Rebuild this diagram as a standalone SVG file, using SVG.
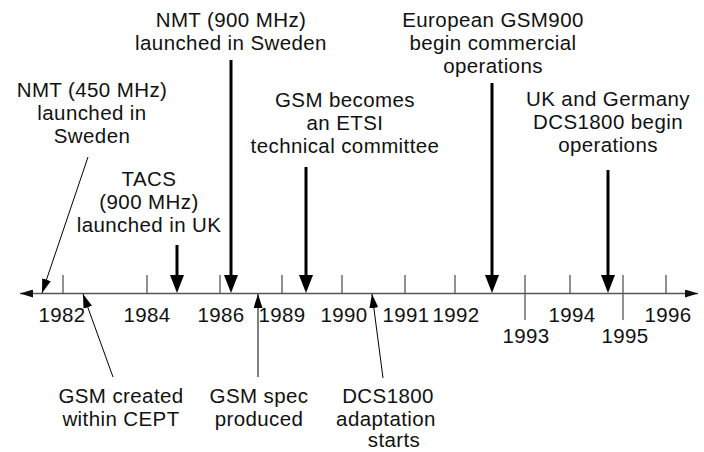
<svg xmlns="http://www.w3.org/2000/svg" width="704" height="452" viewBox="0 0 704 452">
<style>
text{font-family:"Liberation Sans",Arial,sans-serif;font-size:20.5px;letter-spacing:0.4px;fill:#111;text-anchor:middle}
.axis{stroke:#555;stroke-width:1.6;fill:none}
.tick{stroke:#555;stroke-width:1.3}
.bold{stroke:#000;stroke-width:3;fill:none}
.thin{stroke:#000;stroke-width:1;fill:none}
</style>
<defs>
<marker id="ab" viewBox="0 0 18 14" refX="8" refY="7" markerWidth="18" markerHeight="14" orient="auto" markerUnits="userSpaceOnUse"><path d="M0,0 L18,7 L0,14 z" fill="#000"/></marker>
<marker id="at" viewBox="0 0 14 9" refX="14" refY="4.5" markerWidth="14" markerHeight="9" orient="auto" markerUnits="userSpaceOnUse"><path d="M0,0 L14,4.5 L0,9 z" fill="#000"/></marker>
<marker id="ax" viewBox="0 0 13 8" refX="13" refY="4" markerWidth="13" markerHeight="8" orient="auto-start-reverse" markerUnits="userSpaceOnUse"><path d="M0,0 L13,4 L0,8 z" fill="#111"/></marker>
</defs>
<g id="timeline">
<line class="axis" x1="20" y1="293.5" x2="698" y2="293.5" marker-start="url(#ax)" marker-end="url(#ax)"/>
<g class="tick">
<line x1="63" y1="275" x2="63" y2="293"/>
<line x1="147" y1="275" x2="147" y2="293"/>
<line x1="220" y1="275" x2="220" y2="293"/>
<line x1="282" y1="275" x2="282" y2="293"/>
<line x1="342" y1="275" x2="342" y2="293"/>
<line x1="405" y1="275" x2="405" y2="293"/>
<line x1="455" y1="275" x2="455" y2="293"/>
<line x1="525" y1="275" x2="525" y2="320"/>
<line x1="570" y1="275" x2="570" y2="293"/>
<line x1="623" y1="275" x2="623" y2="320"/>
<line x1="666" y1="275" x2="666" y2="293"/>
</g>
<text x="62" y="322">1982</text>
<text x="147" y="322">1984</text>
<text x="221" y="322">1986</text>
<text x="282" y="322">1989</text>
<text x="344" y="322">1990</text>
<text x="406" y="322">1991</text>
<text x="456" y="322">1992</text>
<text x="526" y="343">1993</text>
<text x="572" y="322">1994</text>
<text x="625" y="343">1995</text>
<text x="668" y="322">1996</text>
</g>
<g id="connectors">
<line class="thin" x1="88" y1="157" x2="42" y2="293" marker-end="url(#at)"/>
<line class="bold" x1="177" y1="245" x2="177" y2="283" marker-end="url(#ab)"/>
<line class="bold" x1="231" y1="60" x2="231" y2="283" marker-end="url(#ab)"/>
<line class="bold" x1="306" y1="167" x2="306" y2="283" marker-end="url(#ab)"/>
<line class="bold" x1="492" y1="83" x2="492" y2="283" marker-end="url(#ab)"/>
<line class="bold" x1="608" y1="170" x2="608" y2="283" marker-end="url(#ab)"/>
<line class="thin" x1="113" y1="377" x2="83" y2="294" marker-end="url(#at)"/>
<line class="thin" x1="258" y1="377" x2="258" y2="294" marker-end="url(#at)"/>
<line class="thin" x1="383" y1="378" x2="372" y2="294" marker-end="url(#at)"/>
</g>
<g id="nmt450"><text x="92" y="97">NMT (450 MHz)</text><text x="92" y="120">launched in</text><text x="92" y="143">Sweden</text></g>
<g id="tacs"><text x="149" y="186">TACS</text><text x="149" y="209">(900 MHz)</text><text x="149" y="232">launched in UK</text></g>
<g id="nmt900"><text x="231" y="27">NMT (900 MHz)</text><text x="231" y="50">launched in Sweden</text></g>
<g id="etsi"><text x="345" y="107">GSM becomes</text><text x="345" y="130">an ETSI</text><text x="345" y="153">technical committee</text></g>
<g id="gsm900"><text x="493" y="27">European GSM900</text><text x="493" y="50">begin commercial</text><text x="493" y="73">operations</text></g>
<g id="dcs1800ops"><text x="608" y="106">UK and Germany</text><text x="608" y="129">DCS1800 begin</text><text x="608" y="152">operations</text></g>
<g id="cept"><text x="121" y="403">GSM created</text><text x="121" y="425.5">within CEPT</text></g>
<g id="spec"><text x="259" y="403">GSM spec</text><text x="259" y="425.5">produced</text></g>
<g id="dcsadapt"><text x="388" y="403">DCS1800</text><text x="386" y="425.5">adaptation</text><text x="394" y="447">starts</text></g>
</svg>
